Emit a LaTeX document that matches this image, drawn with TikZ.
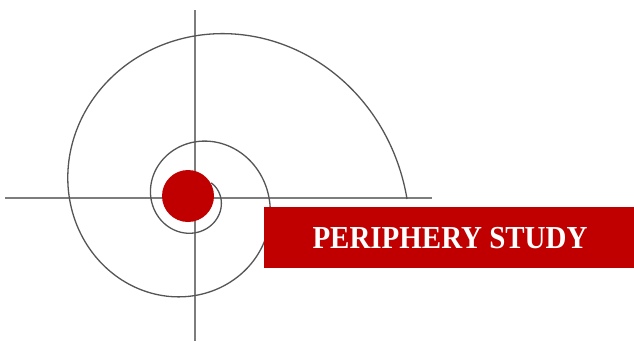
\documentclass[tikz,border=0pt]{standalone}
\usepackage{fontspec}
\setmainfont{Liberation Serif}
\definecolor{brandred}{RGB}{192,0,0}
\definecolor{axisgray}{RGB}{125,125,125}
\definecolor{spiralgray}{RGB}{85,85,85}
\begin{document}
\begin{tikzpicture}[x=1pt,y=-1pt,
  axisline/.style={draw=axisgray,line width=1.4pt},
  spiralline/.style={draw=spiralgray,line width=1.3pt},
  banner/.style={fill=brandred,draw=none,inner sep=0pt,minimum width=370pt,minimum height=61pt,anchor=north west},
  dot/.style={circle,fill=brandred,draw=none,minimum size=52pt,inner sep=0pt}]
\useasboundingbox (0,0) rectangle (634,341);
\fill[white] (0,0) rectangle (634,341);
\coordinate (hl) at (5,198);
\coordinate (hr) at (432,198);
\coordinate (vt) at (195,10);
\coordinate (vb) at (195,341);
\draw[axisline] (hl) -- (hr);
\draw[axisline] (vt) -- (vb);
\draw[spiralline] plot[domain=45:-720,samples=400,smooth]
  ({195+26*exp(-0.167*\x/57.2958)*cos(\x)},{199-26*exp(-0.167*\x/57.2958)*sin(\x)});
\node[dot] (core) at (188,196) {};
\node[banner] (band) at (264,207) {};
\node[text=white,font=\fontsize{32}{36}\selectfont\bfseries,inner sep=0pt] (title) at (450,238)
  {\scalebox{0.905}[1]{PERIPHERY STUDY}};
\end{tikzpicture}
\end{document}
